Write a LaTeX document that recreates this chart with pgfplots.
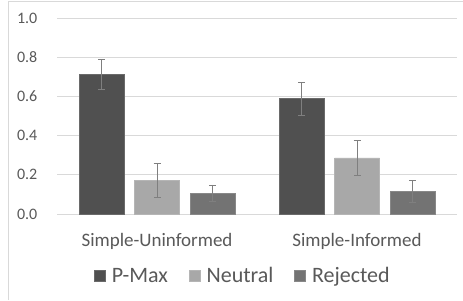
\documentclass[border=0pt]{standalone}
\usepackage{pgfplots}
\pgfplotsset{compat=1.18}
\usepackage{fontspec}
\setmainfont{Carlito}
\definecolor{txt}{HTML}{595959}
\definecolor{gridc}{HTML}{D9D9D9}
\definecolor{pmax}{HTML}{505050}
\definecolor{neutral}{HTML}{A8A8A8}
\definecolor{rej}{HTML}{737373}
\definecolor{errc}{HTML}{7F7F7F}
\begin{document}
\begin{tikzpicture}[x=1pt,y=1pt]
\useasboundingbox (0,0) rectangle (463,300);
\draw[gridc, line width=1pt] (8,0) -- (8,298) -- (463,298);
\begin{axis}[
  at={(57pt,86pt)}, anchor=south west,
  scale only axis, width=400pt, height=196pt,
  xmin=-0.5, xmax=1.5, ymin=0, ymax=1,
  xtick={0,1}, xticklabels={Simple-Uninformed, Simple-Informed},
  ytick={0,0.2,0.4,0.6,0.8,1.0},
  /pgf/number format/assume math mode=true,
  yticklabel style={/pgf/number format/fixed, /pgf/number format/fixed zerofill, /pgf/number format/precision=1,
     font=\fontsize{16}{19}\selectfont, text=txt, anchor=east, inner sep=0pt, xshift=-19.5pt},
  xticklabel style={font=\fontsize{19}{22}\selectfont, text=txt, anchor=base, inner sep=0pt, yshift=-32pt},
  axis line style={draw=none},
  major tick length=0pt,
  ymajorgrids, grid style={gridc, line width=0.9pt},
  ybar, bar width=45pt,
  error bars/error bar style={errc, line width=0.7pt},
  error bars/error mark options={errc, rotate=90, mark size=3.5pt, line width=0.7pt},
  legend columns=3,
  legend style={at={(0.4625,-0.316)}, anchor=center, draw=none, fill=none,
     font=\fontsize{22}{25}\selectfont, text=txt,
     nodes={inner sep=0pt},
     /tikz/every odd column/.append style={column sep=6pt},
     /tikz/every even column/.append style={column sep=21pt},
     inner sep=0pt, row sep=0pt},
  legend image code/.code={\fill[#1] (0pt,-5.5pt) rectangle (11pt,5.5pt);},
  clip=false,
]
\addplot[fill=pmax, draw=pmax!85!white, line width=0.6pt, bar shift=-55.5pt,
  error bars/.cd, y dir=both, y explicit]
  coordinates {(0,0.713) +- (0,0.075) (1,0.588) +- (0,0.085)};
\addplot[fill=neutral, draw=neutral!85!white, line width=0.6pt, bar shift=0pt,
  error bars/.cd, y dir=both, y explicit]
  coordinates {(0,0.171) +- (0,0.087) (1,0.286) +- (0,0.090)};
\addplot[fill=rej, draw=rej!85!white, line width=0.6pt, bar shift=55.5pt,
  error bars/.cd, y dir=both, y explicit]
  coordinates {(0,0.106) +- (0,0.042) (1,0.114) +- (0,0.057)};
\legend{P-Max, Neutral, Rejected}
\end{axis}
\end{tikzpicture}
\end{document}
